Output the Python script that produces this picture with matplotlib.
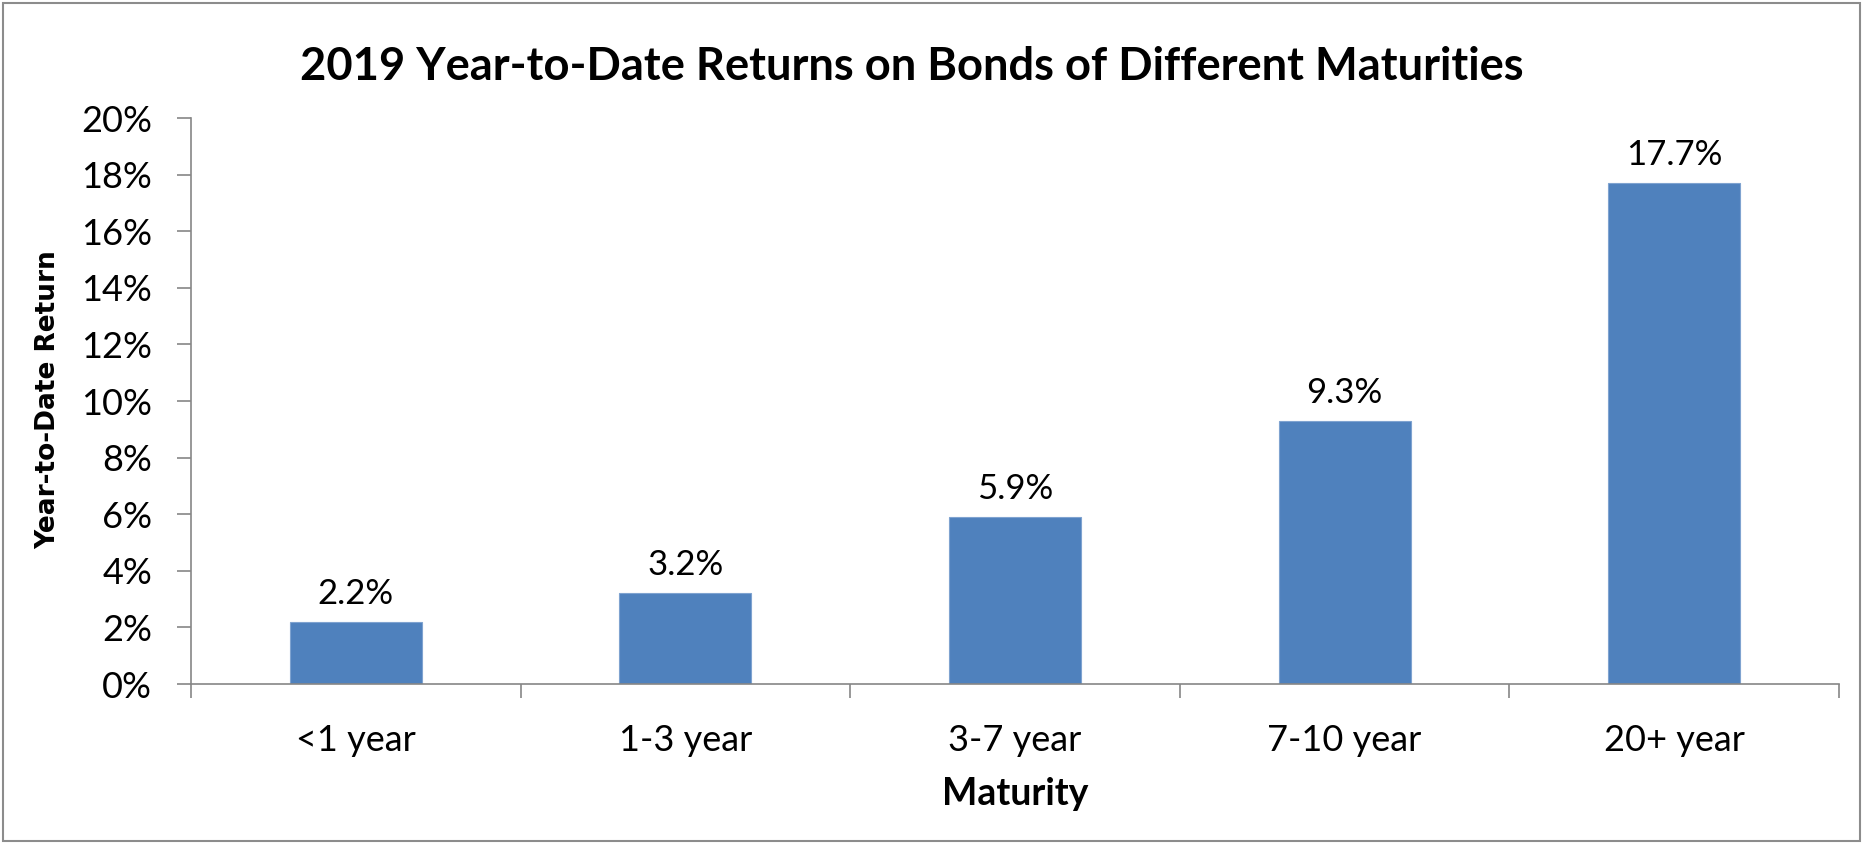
import numpy as np
import matplotlib
matplotlib.use("Agg")
import matplotlib.pyplot as plt
from matplotlib.patches import Rectangle
from matplotlib.ticker import FuncFormatter, FixedLocator

categories = ["<1 year", "1-3 year", "3-7 year", "7-10 year", "20+ year"]
returns = [2.2, 3.2, 5.9, 9.3, 17.7]
y_ticks = [0, 2, 4, 6, 8, 10, 12, 14, 16, 18, 20]

plt.rcParams['font.family'] = ['Lato', 'DejaVu Sans']

fig = plt.figure(figsize=(18.62, 8.43), dpi=100)
ax = fig.add_axes([191 / 1862, 1 - 684 / 843, (1839 - 191) / 1862, (684 - 118) / 843])

x = np.arange(len(categories))
bars = ax.bar(x, returns, width=0.4, color="#4F81BD", edgecolor="#7FA3D0", linewidth=0.8, zorder=2)

for xi, v in zip(x, returns):
    ax.annotate(f"{v:.1f}%", (xi, v), xytext=(0, 13), textcoords="offset points",
                ha="center", va="baseline", fontsize=25, color="black")

ax.set_xlim(-0.5, len(categories) - 0.5)
ax.set_ylim(0, 20)
ax.set_yticks(y_ticks)
ax.yaxis.set_major_formatter(FuncFormatter(lambda v, p: f"{int(v)}%"))
ax.set_xticks(x)
ax.set_xticklabels(categories)
ax.xaxis.set_minor_locator(FixedLocator(np.arange(len(categories) + 1) - 0.5))

gray = "#868686"
for s in ["top", "right"]:
    ax.spines[s].set_visible(False)
for s in ["left", "bottom"]:
    ax.spines[s].set_color(gray)
    ax.spines[s].set_linewidth(1.2)

ax.tick_params(axis="y", direction="out", length=10, width=1.2, color=gray,
               labelsize=26, pad=18)
ax.tick_params(axis="x", which="major", length=0, labelsize=26, pad=29)
ax.tick_params(axis="x", which="minor", direction="out", length=10, width=1.2, color=gray)

ax.set_xlabel("Maturity", fontsize=27, fontweight="bold", labelpad=14)
fig.text(48 / 1862, 1 - 400 / 843, "Year-to-Date Return", rotation=90, ha="center", va="center",
         fontsize=19, fontweight="bold", family=["DejaVu Sans"])

fig.text(912 / 1862, 1 - 67 / 843, "2019 Year-to-Date Returns on Bonds of Different Maturities",
         ha="center", va="center", fontsize=32.6, fontweight="bold")

fig.patches.append(Rectangle((3 / 1862, 2 / 843), 1857 / 1862, 838 / 843, transform=fig.transFigure,
                             fill=False, edgecolor="#8C8C8C", linewidth=1.5))

fig.savefig("out.png", dpi=100)
